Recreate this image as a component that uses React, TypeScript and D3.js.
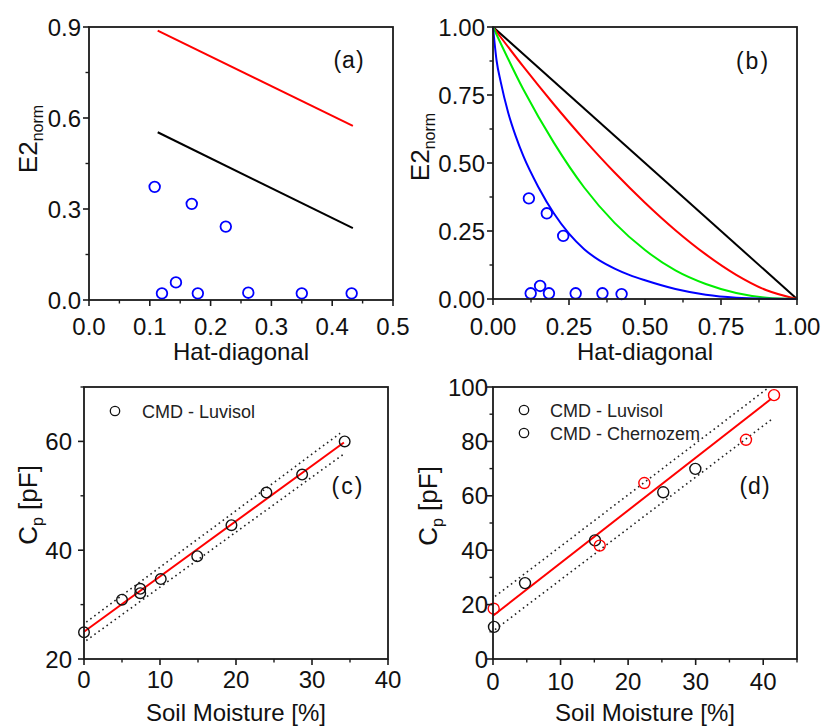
import React from 'react';
import * as d3 from 'd3';

const FONT = "'Liberation Sans', Arial, Helvetica, sans-serif";

// ---------- panel (a): E2norm vs hat-diagonal ----------
const hatA = [0.108, 0.169, 0.225, 0.12, 0.143, 0.179, 0.262, 0.35, 0.432];
const e2A = [0.373, 0.317, 0.242, 0.022, 0.058, 0.022, 0.024, 0.022, 0.022];
const limitHatA = [0.113, 0.434];
const redLimitA = [0.888, 0.574];
const blackLimitA = [0.553, 0.237];
const xTicksA = [0, 0.1, 0.2, 0.3, 0.4, 0.5];
const xLabelsA = ['0.0', '0.1', '0.2', '0.3', '0.4', '0.5'];
const yTicksA = [0, 0.3, 0.6, 0.9];
const yLabelsA = ['0.0', '0.3', '0.6', '0.9'];

// ---------- panel (b): curves + points ----------
const hatB = [0.118, 0.177, 0.231, 0.124, 0.155, 0.184, 0.272, 0.36, 0.423];
const e2B = [0.37, 0.315, 0.232, 0.021, 0.048, 0.021, 0.021, 0.021, 0.018];
const blackHatB = [0, 1];
const blackCurveB = [1, 0];
const redHatB = [0, 0.1, 0.2, 0.3, 0.4, 0.5, 0.6, 0.7, 0.8, 0.9, 1];
const redCurveB = [1, 0.854, 0.716, 0.586, 0.465, 0.354, 0.253, 0.164, 0.089, 0.032, 0];
const greenHatB = [0, 0.1, 0.2, 0.3, 0.4, 0.5, 0.6, 0.7, 0.8, 0.9, 1];
const greenCurveB = [1, 0.77, 0.575, 0.41, 0.28, 0.18, 0.105, 0.055, 0.022, 0.005, 0];
const blueHatB = [0, 0.012, 0.025, 0.05, 0.075, 0.1, 0.15, 0.2, 0.25, 0.3, 0.35, 0.4, 0.45, 0.5, 0.6, 0.7, 0.8, 0.9, 1];
const blueCurveB = [1, 0.875, 0.8, 0.685, 0.598, 0.525, 0.41, 0.315, 0.24, 0.183, 0.142, 0.112, 0.088, 0.069, 0.037, 0.016, 0.005, 0.001, 0];
const xTicksB = [0, 0.25, 0.5, 0.75, 1];
const xLabelsB = ['0.00', '0.25', '0.50', '0.75', '1.00'];
const yTicksB = [0, 0.25, 0.5, 0.75, 1];
const yLabelsB = ['0.00', '0.25', '0.50', '0.75', '1.00'];

// ---------- panel (c): Luvisol calibration ----------
const moistC = [0, 5.0, 7.4, 7.4, 10.1, 14.9, 19.4, 24.0, 28.7, 34.3];
const cpC = [24.9, 30.9, 32.9, 32.1, 34.7, 38.9, 44.6, 50.6, 53.9, 60.0];
const fitXC = [0, 34.2];
const fitYC = [25.0, 59.8];
const upperXC = [0.3, 33.7];
const upperYC = [26.8, 61.5];
const lowerXC = [0.3, 34.4];
const lowerYC = [23.4, 57.9];
const xTicksC = [0, 10, 20, 30, 40];
const xLabelsC = ['0', '10', '20', '30', '40'];
const yTicksC = [20, 40, 60];
const yLabelsC = ['20', '40', '60'];

// ---------- panel (d): Luvisol + Chernozem ----------
const moistLuv = [0.15, 4.74, 15.1, 25.2, 29.95];
const cpLuv = [11.8, 27.9, 43.6, 61.3, 69.9];
const moistChern = [0.1, 15.8, 22.4, 37.45, 41.6];
const cpChern = [18.5, 41.7, 64.7, 80.6, 97];
const fitXD = [0, 41.2];
const fitYD = [15.9, 95.7];
const upperXD = [0.3, 40.7];
const upperYD = [23.0, 99.6];
const lowerXD = [0.3, 41.2];
const lowerYD = [10.8, 88.0];
const xTicksD = [0, 10, 20, 30, 40];
const xLabelsD = ['0', '10', '20', '30', '40'];
const yTicksD = [0, 20, 40, 60, 80, 100];
const yLabelsD = ['0', '20', '40', '60', '80', '100'];

const zip = (xs: number[], ys: number[]) => xs.map((x, i) => [x, ys[i]] as [number, number]);

type Box = { left: number; right: number; top: number; bottom: number };

function minorTicks(major: number[], domain: number[]) {
  const half = (major[1] - major[0]) / 2;
  return d3
    .range(major[0] - half, domain[1] + half * 0.01, half)
    .filter((v) => v >= domain[0] - 1e-9 && v <= domain[1] + 1e-9)
    .filter((v) => !major.some((m) => Math.abs(m - v) < 1e-9));
}

function Frame({ box, x, y, xTicks, xLabels, yTicks, yLabels, xDomain, yDomain, xLabelDy, yLabelGap }: any) {
  const xMinor = minorTicks(xTicks, xDomain);
  const yMinor = minorTicks(yTicks, yDomain);
  const ink = '#1a1a1a';
  return (
    <g>
      {xTicks.map((t: number, i: number) => (
        <g key={'xt' + i}>
          <line x1={x(t)} x2={x(t)} y1={box.bottom} y2={box.bottom + 6} stroke={ink} strokeWidth={1.6} />
          <text x={x(t)} y={box.bottom + xLabelDy} textAnchor="middle" fontSize={24} fill="#111">
            {xLabels[i]}
          </text>
        </g>
      ))}
      {xMinor.map((t: number, i: number) => (
        <line key={'xm' + i} x1={x(t)} x2={x(t)} y1={box.bottom} y2={box.bottom + 3.5} stroke={ink} strokeWidth={1.4} />
      ))}
      {yTicks.map((t: number, i: number) => (
        <g key={'yt' + i}>
          <line x1={box.left - 6} x2={box.left} y1={y(t)} y2={y(t)} stroke={ink} strokeWidth={1.6} />
          <text x={box.left - yLabelGap} y={y(t)} dy="0.36em" textAnchor="end" fontSize={24} fill="#111">
            {yLabels[i]}
          </text>
        </g>
      ))}
      {yMinor.map((t: number, i: number) => (
        <line key={'ym' + i} x1={box.left - 3.5} x2={box.left} y1={y(t)} y2={y(t)} stroke={ink} strokeWidth={1.4} />
      ))}
      <rect
        x={box.left}
        y={box.top}
        width={box.right - box.left}
        height={box.bottom - box.top}
        fill="none"
        stroke={ink}
        strokeWidth={1.8}
      />
    </g>
  );
}

function YTitle({ cx, cy, main, sub, rest }: { cx: number; cy: number; main: string; sub: string; rest?: string }) {
  return (
    <text transform={`translate(${cx},${cy}) rotate(-90)`} textAnchor="middle" fontSize={26} fill="#111">
      <tspan>{main}</tspan>
      <tspan dy={6} fontSize={16}>
        {sub}
      </tspan>
      {rest ? <tspan dy={-6}>{rest}</tspan> : null}
    </text>
  );
}

function PanelA() {
  const box: Box = { left: 89, right: 393, top: 27, bottom: 300 };
  const x = d3.scaleLinear().domain([0, 0.5]).range([box.left, box.right]);
  const y = d3.scaleLinear().domain([0, 0.9]).range([box.bottom, box.top]);
  const line = d3.line<[number, number]>().x((d) => x(d[0])).y((d) => y(d[1]));
  return (
    <g>
      <path d={line(zip(limitHatA, redLimitA)) || ''} stroke="#ff0000" strokeWidth={2} fill="none" />
      <path d={line(zip(limitHatA, blackLimitA)) || ''} stroke="#000" strokeWidth={2} fill="none" />
      {hatA.map((h, i) => (
        <circle key={i} cx={x(h)} cy={y(e2A[i])} r={5.3} fill="none" stroke="#0000ff" strokeWidth={1.8} />
      ))}
      <Frame box={box} x={x} y={y} xTicks={xTicksA} xLabels={xLabelsA} yTicks={yTicksA} yLabels={yLabelsA}
        xDomain={[0, 0.5]} yDomain={[0, 0.9]} xLabelDy={35} yLabelGap={8} />
      <text x={349} y={68} textAnchor="middle" fontSize={23} fill="#111" letterSpacing={1}>(a)</text>
      <text x={(box.left + box.right) / 2} y={360} textAnchor="middle" fontSize={24} fill="#111">Hat-diagonal</text>
      <YTitle cx={37} cy={139} main="E2" sub="norm" />
    </g>
  );
}

function PanelB() {
  const box: Box = { left: 493, right: 797, top: 27, bottom: 299 };
  const x = d3.scaleLinear().domain([0, 1]).range([box.left, box.right]);
  const y = d3.scaleLinear().domain([0, 1]).range([box.bottom, box.top]);
  const curve = d3.line<[number, number]>().x((d) => x(d[0])).y((d) => y(d[1])).curve(d3.curveMonotoneX);
  const series = [
    { hs: blackHatB, vs: blackCurveB, c: '#000000' },
    { hs: redHatB, vs: redCurveB, c: '#ff0000' },
    { hs: greenHatB, vs: greenCurveB, c: '#00ee00' },
    { hs: blueHatB, vs: blueCurveB, c: '#0000ff' },
  ];
  return (
    <g>
      {series.map((s, i) => (
        <path key={i} d={curve(zip(s.hs, s.vs)) || ''} stroke={s.c} strokeWidth={2} fill="none" />
      ))}
      {hatB.map((h, i) => (
        <circle key={i} cx={x(h)} cy={y(e2B[i])} r={5.3} fill="none" stroke="#0000ff" strokeWidth={1.8} />
      ))}
      <Frame box={box} x={x} y={y} xTicks={xTicksB} xLabels={xLabelsB} yTicks={yTicksB} yLabels={yLabelsB}
        xDomain={[0, 1]} yDomain={[0, 1]} xLabelDy={36} yLabelGap={8} />
      <text x={753} y={69} textAnchor="middle" fontSize={23} fill="#111" letterSpacing={2}>(b)</text>
      <text x={(box.left + box.right) / 2} y={360} textAnchor="middle" fontSize={24} fill="#111">Hat-diagonal</text>
      <YTitle cx={429} cy={147} main="E2" sub="norm" />
    </g>
  );
}

function PanelC() {
  const box: Box = { left: 84, right: 388, top: 387, bottom: 659 };
  const x = d3.scaleLinear().domain([0, 40]).range([box.left, box.right]);
  const y = d3.scaleLinear().domain([20, 70]).range([box.bottom, box.top]);
  const line = d3.line<[number, number]>().x((d) => x(d[0])).y((d) => y(d[1]));
  return (
    <g>
      <path d={line(zip(upperXC, upperYC)) || ''} stroke="#222" strokeWidth={1.6} strokeDasharray="1.6 3.4" fill="none" />
      <path d={line(zip(lowerXC, lowerYC)) || ''} stroke="#222" strokeWidth={1.6} strokeDasharray="1.6 3.4" fill="none" />
      <path d={line(zip(fitXC, fitYC)) || ''} stroke="#ff0000" strokeWidth={2} fill="none" />
      {moistC.map((m, i) => (
        <circle key={i} cx={x(m)} cy={y(cpC[i])} r={5.3} fill="none" stroke="#111" strokeWidth={1.4} />
      ))}
      <Frame box={box} x={x} y={y} xTicks={xTicksC} xLabels={xLabelsC} yTicks={yTicksC} yLabels={yLabelsC}
        xDomain={[0, 40]} yDomain={[20, 70]} xLabelDy={29} yLabelGap={12} />
      <circle cx={115} cy={411} r={4.7} fill="none" stroke="#111" strokeWidth={1.3} />
      <text x={142} y={418} fontSize={18} fill="#222">CMD - Luvisol</text>
      <text x={348} y={494} textAnchor="middle" fontSize={23} fill="#111" letterSpacing={2}>(c)</text>
      <text x={(box.left + box.right) / 2} y={721} textAnchor="middle" fontSize={24} fill="#111">Soil Moisture [%]</text>
      <YTitle cx={37} cy={505} main="C" sub="p" rest=" [pF]" />
    </g>
  );
}

function PanelD() {
  const box: Box = { left: 493, right: 797, top: 387, bottom: 659 };
  const x = d3.scaleLinear().domain([0, 45]).range([box.left, box.right]);
  const y = d3.scaleLinear().domain([0, 100]).range([box.bottom, box.top]);
  const line = d3.line<[number, number]>().x((d) => x(d[0])).y((d) => y(d[1]));
  return (
    <g>
      <path d={line(zip(upperXD, upperYD)) || ''} stroke="#222" strokeWidth={1.6} strokeDasharray="1.6 3.4" fill="none" />
      <path d={line(zip(lowerXD, lowerYD)) || ''} stroke="#222" strokeWidth={1.6} strokeDasharray="1.6 3.4" fill="none" />
      <path d={line(zip(fitXD, fitYD)) || ''} stroke="#ff0000" strokeWidth={2} fill="none" />
      {moistLuv.map((m, i) => (
        <circle key={'l' + i} cx={x(m)} cy={y(cpLuv[i])} r={5.5} fill="none" stroke="#111" strokeWidth={1.4} />
      ))}
      {moistChern.map((m, i) => (
        <circle key={'c' + i} cx={x(m)} cy={y(cpChern[i])} r={5.5} fill="none" stroke="#ff0000" strokeWidth={1.4} />
      ))}
      <Frame box={box} x={x} y={y} xTicks={xTicksD} xLabels={xLabelsD} yTicks={yTicksD} yLabels={yLabelsD}
        xDomain={[0, 45]} yDomain={[0, 100]} xLabelDy={31} yLabelGap={5} />
      <circle cx={524} cy={410} r={4.7} fill="none" stroke="#111" strokeWidth={1.3} />
      <text x={550} y={417} fontSize={18} fill="#222">CMD - Luvisol</text>
      <circle cx={524} cy={433} r={4.7} fill="none" stroke="#111" strokeWidth={1.3} />
      <text x={550} y={440} fontSize={18} fill="#222">CMD - Chernozem</text>
      <text x={755} y={494} textAnchor="middle" fontSize={23} fill="#111" letterSpacing={1}>(d)</text>
      <text x={(box.left + box.right) / 2} y={721} textAnchor="middle" fontSize={24} fill="#111">Soil Moisture [%]</text>
      <YTitle cx={437} cy={506} main="C" sub="p" rest=" [pF]" />
    </g>
  );
}

export default function App() {
  return (
    <svg
      width={821}
      height={726}
      viewBox="0 0 821 726"
      style={{ position: 'absolute', left: 0, top: 0, background: '#fff' }}
      fontFamily={FONT}
    >
      <rect x={0} y={0} width={821} height={726} fill="#fff" />
      <PanelA />
      <PanelB />
      <PanelC />
      <PanelD />
    </svg>
  );
}
